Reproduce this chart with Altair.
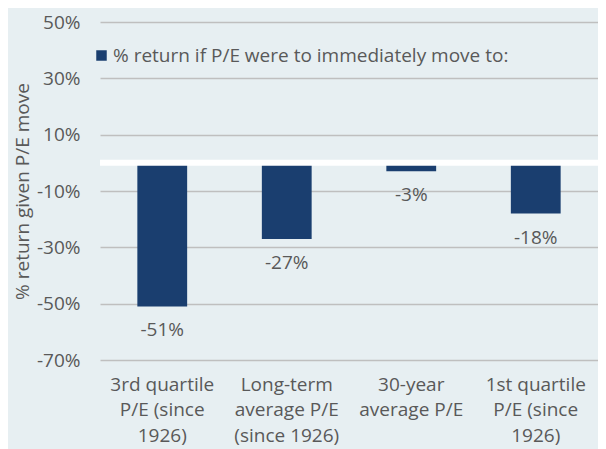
import altair as alt
import pandas as pd

categories = ["3rd quartile|P/E (since|1926)", "Long-term|average P/E|(since 1926)",
              "30-year|average P/E", "1st quartile|P/E (since|1926)"]
values = [-51, -27, -3, -18]
value_labels = ["-51%", "-27%", "-3%", "-18%"]
y_ticks = [-70, -50, -30, -10, 10, 30, 50]
series_name = "% return if P/E were to immediately move to:"

df = pd.DataFrame({"cat": categories, "val": values, "lab": value_labels,
                   "series": [series_name] * 4})

FONT = "Open Sans"
FS = 19
GRAY = "#595959"
NAVY = "#1A3E6F"
BG = "#E7EFF2"

x = alt.X("cat:N", sort=categories, title=None,
          scale=alt.Scale(paddingInner=0.6, paddingOuter=0.3),
          axis=alt.Axis(labelExpr="split(datum.label, '|')", labelAngle=0,
                        labelFontSize=FS, labelColor=GRAY, labelFont=FONT,
                        labelLineHeight=25.5, labelPadding=15, ticks=False,
                        domain=False, labelBaseline="top"))
y = alt.Y("val:Q", title="% return given P/E move",
          scale=alt.Scale(domain=[-70, 50], nice=False, zero=False),
          axis=alt.Axis(values=y_ticks, labelExpr="datum.value + '%'",
                        labelFontSize=FS, labelColor=GRAY, labelFont=FONT,
                        labelPadding=20, ticks=False, domain=False,
                        gridColor="#BFBFBF", gridWidth=1.5,
                        titleFontSize=FS, titleColor=GRAY, titleFont=FONT,
                        titleFontWeight="normal", titleBaseline="middle",
                        titleX=-78, titleY=169))

bars = alt.Chart(df).mark_bar(color=NAVY).encode(
    x=x, y=y,
    color=alt.Color("series:N", scale=alt.Scale(range=[NAVY]),
                    legend=alt.Legend(title=None, orient="none", legendX=-8, legendY=24,
                                      symbolType="square", symbolSize=110,
                                      symbolStrokeWidth=0, labelFontSize=FS,
                                      labelColor=GRAY, labelFont=FONT,
                                      labelOffset=2, labelLimit=600, padding=0)))

texts = alt.Chart(df).mark_text(fontSize=FS, color=GRAY, font=FONT,
                                baseline="middle", dy=24).encode(
    x=alt.X("cat:N", sort=categories), y="val:Q", text="lab:N")

zero = alt.Chart(pd.DataFrame({"z": [0]})).mark_rule(color="white", strokeWidth=6).encode(
    y="z:Q")

chart = alt.layer(bars, zero, texts).properties(
    width=498, height=338,
    autosize=alt.AutoSizeParams(type="none"),
    padding={"left": 92, "top": 14, "right": 0, "bottom": 95},
    background=BG,
).configure_view(stroke=None)

chart.save("out.html", embed_options={"renderer": "svg", "actions": False})
